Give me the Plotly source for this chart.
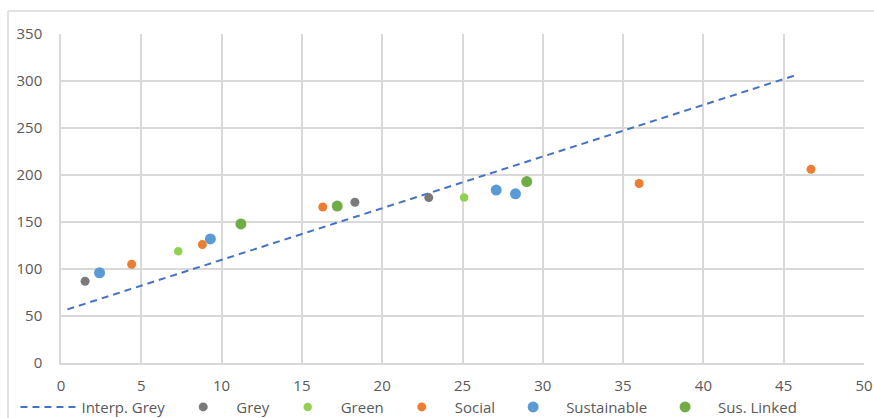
import plotly.graph_objects as go

# Interpolated grey curve (straight reference line)
interp_x = [0.4, 45.9]
interp_y = [57, 307]

# Bond categories: (years, spread)
grey_x = [1.5, 18.3, 22.9]
grey_y = [87, 171, 176]

green_x = [7.3, 25.1]
green_y = [119, 176]

social_x = [4.4, 8.8, 16.3, 36.0, 46.7]
social_y = [105, 126, 166, 191, 206]

sustainable_x = [2.4, 9.3, 27.1, 28.3]
sustainable_y = [96, 132, 184, 180]

linked_x = [11.2, 17.2, 29.0]
linked_y = [148, 167, 193]

x_ticks = [0, 5, 10, 15, 20, 25, 30, 35, 40, 45, 50]
y_ticks = [0, 50, 100, 150, 200, 250, 300, 350]

FONT = "Open Sans"
TEXT = "#595959"
GRID = "#d9d9d9"

fig = go.Figure()

fig.add_trace(go.Scatter(
    x=interp_x, y=interp_y, mode="lines", name="Interp. Grey",
    line=dict(color="#4472C4", width=2, dash="7px,5px"),
))

series = [
    ("Grey", grey_x, grey_y, "#7a7a7a", 9),
    ("Green", green_x, green_y, "#92D050", 8.5),
    ("Social", social_x, social_y, "#ED7D31", 9),
    ("Sustainable", sustainable_x, sustainable_y, "#5B9BD5", 11),
    ("Sus. Linked", linked_x, linked_y, "#70AD47", 11),
]
for name, xs, ys, color, size in series:
    fig.add_trace(go.Scatter(
        x=xs, y=ys, mode="markers", name=name,
        marker=dict(color=color, size=size, line=dict(width=0)),
    ))

# Outer chart-area border (top and left edges)
fig.add_shape(type="line", xref="paper", yref="paper",
              x0=-0.066, x1=1.05, y0=1.0697, y1=1.0697,
              line=dict(color="#d9d9d9", width=1.5))
fig.add_shape(type="line", xref="paper", yref="paper",
              x0=-0.066, x1=-0.066, y0=1.0697, y1=-0.2,
              line=dict(color="#d9d9d9", width=1.5))

fig.update_layout(
    width=874, height=418,
    margin=dict(l=61, r=10, t=34, b=54.5),
    plot_bgcolor="white", paper_bgcolor="white",
    font=dict(family=FONT, size=15, color=TEXT),
    showlegend=True,
    legend=dict(
        orientation="h", xref="container", yref="container",
        x=0.0177, xanchor="left", y=0.026, yanchor="middle",
        font=dict(family=FONT, size=15, color=TEXT),
        itemwidth=56, tracegroupgap=0, bgcolor="rgba(0,0,0,0)",
    ),
    xaxis=dict(
        range=[0, 50], tickvals=x_ticks, showgrid=True, gridcolor=GRID,
        gridwidth=1.5, zeroline=False, showline=True, linecolor=GRID,
        linewidth=1.5, ticks="", ticklabelstandoff=8, automargin=False,
        tickfont=dict(family=FONT, size=15, color=TEXT),
        fixedrange=True,
    ),
    yaxis=dict(
        range=[0, 350], tickvals=y_ticks, showgrid=True, gridcolor=GRID,
        gridwidth=1.5, zeroline=False, showline=True, linecolor=GRID,
        linewidth=1.5, ticks="", ticklabelstandoff=14, automargin=False,
        tickfont=dict(family=FONT, size=15, color=TEXT),
        fixedrange=True,
    ),
)

fig.write_html("out.html")
